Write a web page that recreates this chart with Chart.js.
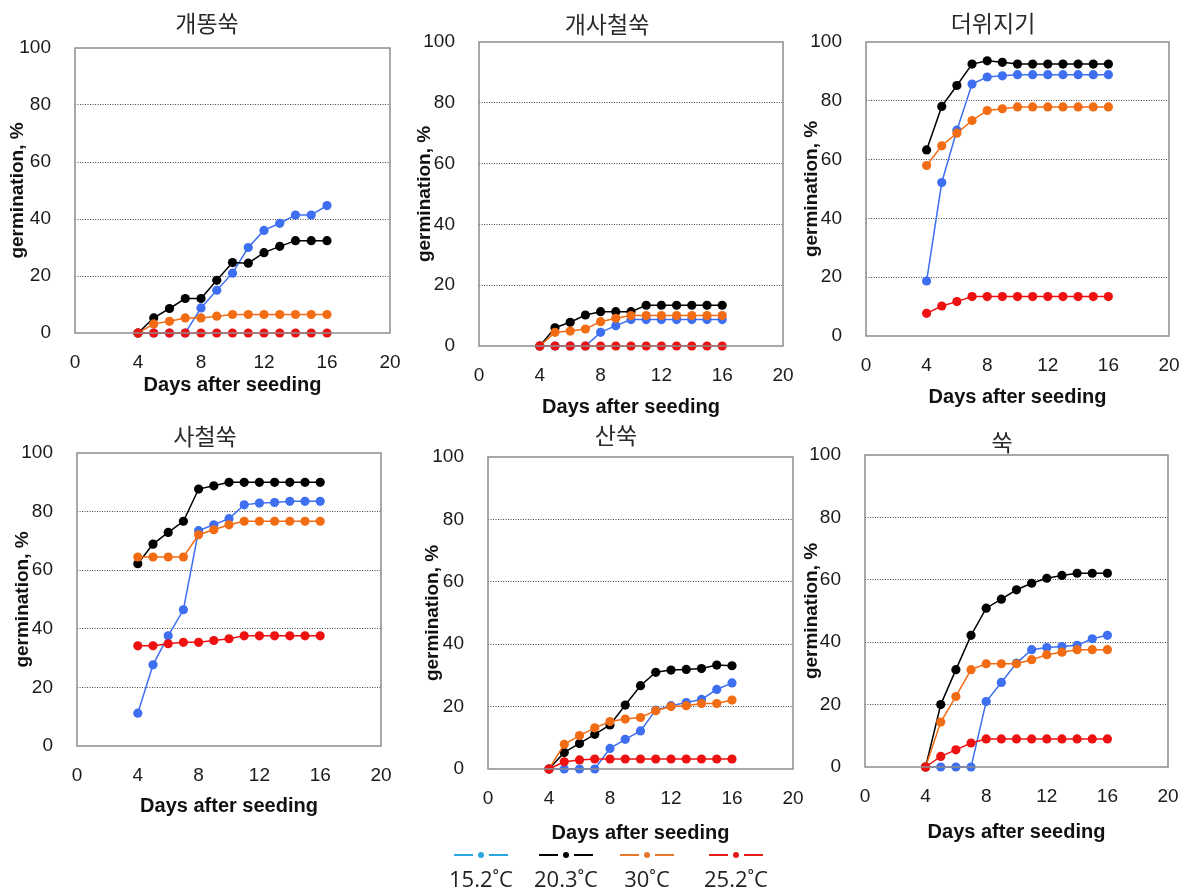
<!DOCTYPE html>
<html>
<head>
<meta charset="utf-8">
<script src="https://cdn.jsdelivr.net/npm/chart.js@4/dist/chart.umd.min.js"></script>
<style>
  html, body { margin: 0; padding: 0; background: #fff; }
  #wrap { position: relative; width: 1189px; height: 895px; overflow: hidden; }
  #wrap canvas { position: absolute; left: 0; top: 0; }
  .leg-item { position: absolute; width: 100px; text-align: center; }
  .leg-sample { position: relative; height: 8px; width: 54px; margin: 0 auto; }
  .leg-sample i { position: absolute; top: 3px; height: 2px; width: 19px; }
  .leg-sample i.a { left: 0; }
  .leg-sample i.b { right: 0; }
  .leg-sample b { position: absolute; left: 24px; top: 1px; width: 6px; height: 6px; border-radius: 50%; }
  .leg-label { font-family: 'Open Sans', 'Noto Sans', sans-serif; font-size: 22px; color: #222; margin-top: 6px; line-height: 26px; }
</style>
</head>
<body>
<div id="wrap"></div>
<script>
// ---- data ----
const days = [4, 5, 6, 7, 8, 9, 10, 11, 12, 13, 14, 15, 16];
const xTicks = [0, 4, 8, 12, 16, 20];
const yTicks = [0, 20, 40, 60, 80, 100];
const seriesNames = ['15.2˚C', '20.3˚C', '30˚C', '25.2˚C'];
const panelTitles = ['개똥쑥', '개사철쑥', '더위지기', '사철쑥', '산쑥', '쑥'];

// each panel: [15.2, 20.3, 30, 25.2]
const gaettongssuk = [
  [0, 0, 0, 0, 8.8, 15, 21, 30, 36, 38.5, 41.4, 41.4, 44.7],
  [0, 5.3, 8.6, 12.1, 12.1, 18.5, 24.7, 24.5, 28.2, 30.4, 32.4, 32.4, 32.4],
  [0, 3.2, 4.1, 5.3, 5.3, 5.9, 6.5, 6.5, 6.5, 6.5, 6.5, 6.5, 6.5],
  [0, 0, 0, 0, 0, 0, 0, 0, 0, 0, 0, 0, 0],
];
const gaesacheolssuk = [
  [0, 0, 0, 0, 4.5, 6.7, 8.7, 8.7, 8.7, 8.7, 8.7, 8.7, 8.7],
  [0, 6, 7.8, 10.2, 11.3, 11.3, 11.3, 13.4, 13.4, 13.4, 13.4, 13.4, 13.4],
  [0, 4.5, 4.9, 5.6, 8, 9.1, 10, 10, 10, 10, 10, 10, 10],
  [0, 0, 0, 0, 0, 0, 0, 0, 0, 0, 0, 0, 0],
];
const deowijigi = [
  [18.7, 52.2, 70, 85.7, 88.1, 88.5, 88.9, 88.9, 88.9, 88.9, 88.9, 88.9, 88.9],
  [63.3, 78.1, 85.2, 92.5, 93.6, 93.1, 92.5, 92.5, 92.5, 92.5, 92.5, 92.5, 92.5],
  [58, 64.7, 69, 73.3, 76.7, 77.3, 77.9, 77.9, 77.9, 77.9, 77.9, 77.9, 77.9],
  [7.7, 10.2, 11.7, 13.4, 13.4, 13.4, 13.4, 13.4, 13.4, 13.4, 13.4, 13.4, 13.4],
];
const sacheolssuk = [
  [11.2, 27.7, 37.6, 46.5, 73.5, 75.5, 77.6, 82.3, 82.9, 83.1, 83.5, 83.5, 83.5],
  [62.2, 68.9, 72.9, 76.7, 87.7, 88.8, 90, 90, 90, 90, 90, 90, 90],
  [64.5, 64.5, 64.5, 64.5, 72.1, 73.8, 75.5, 76.7, 76.7, 76.7, 76.7, 76.7, 76.7],
  [34.2, 34.2, 34.9, 35.4, 35.4, 36, 36.6, 37.6, 37.6, 37.6, 37.6, 37.6, 37.6],
];
const sanssuk = [
  [0, 0, 0, 0, 6.6, 9.5, 12.2, 18.9, 20.3, 21.3, 22.3, 25.5, 27.6],
  [0, 5.3, 8.2, 11.1, 14.1, 20.5, 26.7, 31, 31.7, 31.9, 32.2, 33.3, 33.1],
  [0, 7.9, 10.7, 13.2, 15.2, 16, 16.5, 18.7, 20, 20.3, 21, 21, 22.1],
  [0, 2.3, 2.9, 3.2, 3.2, 3.2, 3.2, 3.2, 3.2, 3.2, 3.2, 3.2, 3.2],
];
const ssuk = [
  [0, 0, 0, 0, 21, 27.1, 33.3, 37.6, 38.3, 38.6, 39, 41.1, 42.2],
  [0, 20, 31.2, 42.2, 50.9, 53.8, 56.8, 58.9, 60.5, 61.4, 62.1, 62.1, 62.1],
  [0, 14.4, 22.6, 31.2, 33.1, 33.1, 33.1, 34.4, 36, 36.8, 37.6, 37.6, 37.6],
  [0, 3.4, 5.5, 7.7, 9, 9, 9, 9, 9, 9, 9, 9, 9],
];
const panelValues = [gaettongssuk, gaesacheolssuk, deowijigi, sacheolssuk, sanssuk, ssuk];

// ---- styles / layout ----
const markerColors = ['#3d6ff0', '#000000', '#f26c14', '#ee1111'];
const legendColors = ['#2aa6e2', '#000000', '#e8782c', '#e21b1b'];
const W = 1189, H = 895;
const FONT = "'Liberation Sans', Arial, sans-serif";
const TITLE_LH = 23 * 1.2;
const XT_LH = 20 * 1.2;
const YT_LH = 19 * 1.2;

// plot = [left, top, right, bottom] of the framed area
const panels = [
  { plot: [75, 48, 390, 333], titleX: 207, titleY: 23, yTitleX: 18, xTitleY: 385 },
  { plot: [479, 42, 783, 346], titleX: 607, titleY: 24, yTitleX: 425, xTitleY: 407 },
  { plot: [866, 42, 1169, 336], titleX: 993, titleY: 23, yTitleX: 812, xTitleY: 397 },
  { plot: [77, 453, 381, 746], titleX: 205, titleY: 436, yTitleX: 23, xTitleY: 806 },
  { plot: [488, 457, 793, 769], titleX: 616, titleY: 435, yTitleX: 433, xTitleY: 833 },
  { plot: [865, 455, 1168, 767], titleX: 1002, titleY: 442, yTitleX: 812, xTitleY: 832 },
];
const legendCenters = [481, 566, 647, 736];
const legendTop = 851;

// рамка вокруг поля графика
const chartAreaBorder = {
  id: 'chartAreaBorder',
  afterDraw(chart) {
    const { ctx, chartArea: { left, top, width, height } } = chart;
    ctx.save();
    ctx.strokeStyle = '#8c8c8c';
    ctx.lineWidth = 1.5;
    ctx.strokeRect(left, top, width, height);
    ctx.restore();
  },
};

const zeroPad = (s) => {
  s.paddingLeft = 0; s.paddingRight = 0; s.paddingTop = 0; s.paddingBottom = 0;
};

const wrap = document.getElementById('wrap');

panels.forEach((p, i) => {
  const [l, t, r, b] = p.plot;
  // y-scale box must still hold the "100" label (labels are clipped to it)
  const scaleLeft = Math.min(2 * p.titleX - r, l - 58);
  const yW = l - scaleLeft;
  // empty right-hand box, only to push the centred title to the right spot
  const spacerW = Math.max(0, 2 * p.titleX - scaleLeft - r);
  const xH = p.xTitleY - b + XT_LH / 2;

  const canvas = document.createElement('canvas');
  canvas.width = W;
  canvas.height = H;
  wrap.appendChild(canvas);

  const datasets = panelValues[i].map((vals, k) => ({
    label: seriesNames[k],
    data: days.map((d, j) => ({ x: d, y: vals[j] })),
    borderColor: markerColors[k],
    backgroundColor: markerColors[k],
    pointBackgroundColor: markerColors[k],
    pointBorderColor: markerColors[k],
    borderWidth: 1.5,
    pointRadius: 4.6,
    pointBorderWidth: 0,
    tension: 0,
    clip: false,
    order: 3 - k,
  }));

  new Chart(canvas, {
    type: 'line',
    data: { datasets },
    options: {
      responsive: false,
      animation: false,
      events: [],
      layout: {
        padding: { left: scaleLeft, top: p.titleY - TITLE_LH / 2, right: W - r - spacerW, bottom: H - b - xH },
      },
      plugins: {
        legend: { display: false },
        tooltip: { enabled: false },
        title: {
          display: true,
          text: panelTitles[i],
          color: '#2a2a2a',
          font: { family: "'Noto Sans CJK KR', sans-serif", size: 23, weight: 'normal' },
          padding: { top: 0, bottom: t - p.titleY - TITLE_LH / 2 },
        },
      },
      scales: {
        x: {
          type: 'linear',
          min: 0,
          max: 20,
          afterBuildTicks: (s) => { s.ticks = xTicks.map((v) => ({ value: v })); },
          grid: { display: false, drawTicks: false },
          border: { display: false },
          ticks: { padding: 18, color: '#1a1a1a', font: { family: FONT, size: 19 } },
          title: {
            display: true,
            text: 'Days after seeding',
            color: '#111',
            padding: 0,
            font: { family: FONT, size: 20, weight: 'bold' },
          },
          afterFit: (s) => { s.height = xH; zeroPad(s); },
        },
        y: {
          min: 0,
          max: 100,
          afterBuildTicks: (s) => { s.ticks = yTicks.map((v) => ({ value: v })); },
          grid: {
            drawTicks: false,
            lineWidth: 1,
            color: (ctx) => (ctx.tick && (ctx.tick.value === 0 || ctx.tick.value === 100)) ? 'rgba(0,0,0,0)' : '#444',
          },
          border: { display: false, dash: [1, 1.5] },
          ticks: { padding: 24, color: '#1a1a1a', font: { family: FONT, size: 19 } },
          title: {
            display: true,
            text: 'germination, %',
            color: '#111',
            padding: { top: p.yTitleX - scaleLeft - YT_LH / 2, bottom: 0 },
            font: { family: FONT, size: 19, weight: 'bold' },
          },
          afterFit: (s) => { s.width = yW; zeroPad(s); },
        },
        spacer: {
          type: 'linear',
          position: 'right',
          min: 0,
          max: 1,
          grid: { display: false, drawTicks: false },
          border: { display: false },
          ticks: { display: false },
          afterFit: (s) => { s.width = spacerW; zeroPad(s); },
        },
      },
    },
    plugins: [chartAreaBorder],
  });
});

// легенда под графиком "산쑥"
seriesNames.forEach((name, k) => {
  const item = document.createElement('div');
  item.className = 'leg-item';
  item.style.left = (legendCenters[k] - 50) + 'px';
  item.style.top = legendTop + 'px';
  const c = legendColors[k];
  item.innerHTML =
    `<div class="leg-sample"><i class="a" style="background:${c}"></i><b style="background:${c}"></b><i class="b" style="background:${c}"></i></div>` +
    `<div class="leg-label">${name}</div>`;
  wrap.appendChild(item);
});
</script>
</body>
</html>
